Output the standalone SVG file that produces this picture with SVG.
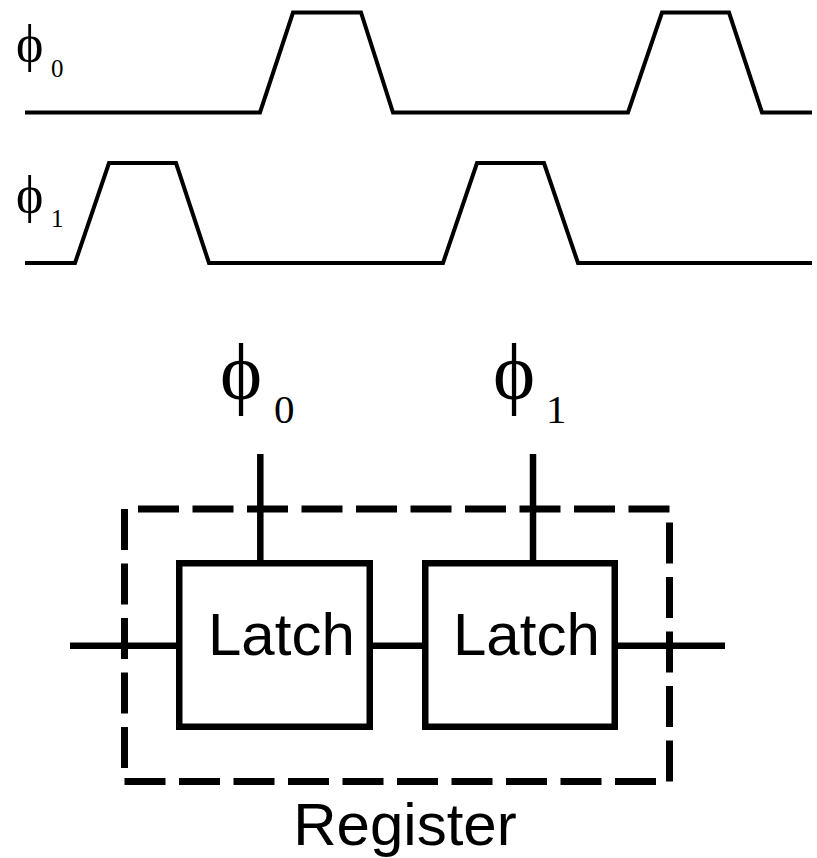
<svg xmlns="http://www.w3.org/2000/svg" width="817" height="858" viewBox="0 0 817 858">
<style>
.wave{fill:none;stroke:#000;stroke-width:4;stroke-linejoin:miter}
.wire{fill:none;stroke:#000;stroke-width:6.5}
.box{fill:#fff;stroke:#000;stroke-width:6.5}
.dash{fill:none;stroke:#000;stroke-width:7;stroke-dasharray:41 13.5}
.phi{font-family:"Liberation Serif","Times New Roman",serif;fill:#000}
.lbl{font-family:"Liberation Sans",Arial,sans-serif;font-size:60px;fill:#000}
</style>
<rect width="817" height="858" fill="#fff"/>
<g id="waveforms">
<g id="wave-phi0">
<text class="phi" x="16" y="61" font-size="52">ϕ</text>
<text class="phi" x="51" y="77" font-size="25">0</text>
<path class="wave" d="M25,112.5 H260 L293,12.5 H361 L393,112.5 H628 L662,12.5 H729 L762,112.5 H812"/>
</g>
<g id="wave-phi1">
<text class="phi" x="16" y="212" font-size="52">ϕ</text>
<text class="phi" x="51" y="227" font-size="25">1</text>
<path class="wave" d="M25,263 H75 L109,163 H176 L209,263 H443 L477,163 H544 L578,263 H812"/>
</g>
</g>
<g id="clock-labels">
<text id="lbl-phi0" class="phi" x="220" y="399" font-size="80">ϕ<tspan x="274" y="423" font-size="41">0</tspan></text>
<text id="lbl-phi1" class="phi" x="493" y="399" font-size="80">ϕ<tspan x="546" y="423" font-size="41">1</tspan></text>
</g>
<g id="connectors">
<path class="wire" d="M260.3,454 V560"/>
<path class="wire" d="M533,454 V560"/>
<path class="wire" d="M70,645.7 H176"/>
<path class="wire" d="M373,645.7 H422"/>
<path class="wire" d="M618,645.7 H725"/>
</g>
<g id="register">
<path class="dash" d="M124.5,509 V781.5"/>
<path class="dash" d="M124.5,781.5 H669.5"/>
<path class="dash" d="M669.5,781.5 V509"/>
<path class="dash" d="M669.5,509 H124.5"/>
<text class="lbl" x="405" y="845" text-anchor="middle">Register</text>
</g>
<g id="latch1">
<rect class="box" x="179.25" y="563.25" width="190.5" height="163.5"/>
<text class="lbl" x="208" y="655">Latch</text>
</g>
<g id="latch2">
<rect class="box" x="425.25" y="563.25" width="189.5" height="163.5"/>
<text class="lbl" x="453" y="655">Latch</text>
</g>
</svg>
